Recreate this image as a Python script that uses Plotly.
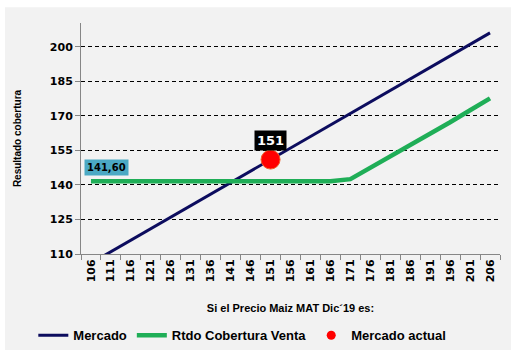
import plotly.graph_objects as go

precios = ["106", "111", "116", "121", "126", "131", "136", "141", "146", "151", "156",
           "161", "166", "171", "176", "181", "186", "191", "196", "201", "206"]
mercado = [106, 111, 116, 121, 126, 131, 136, 141, 146, 151, 156,
           161, 166, 171, 176, 181, 186, 191, 196, 201, 206]
cobertura = [141.6, 141.6, 141.6, 141.6, 141.6, 141.6, 141.6, 141.6, 141.6, 141.6, 141.6,
             141.6, 141.6, 142.5, 147.4, 152.3, 157.2, 162.0, 167.2, 172.4, 177.6]
actual_x = ["151"]
actual_y = [151]
y_ticks = [110, 125, 140, 155, 170, 185, 200]

NAVY = "#0C0C5E"
GREEN = "#1FAE57"
FONT = "Liberation Sans"
TICKFONT = "DejaVu Sans"

fig = go.Figure()
fig.add_trace(go.Scatter(x=precios, y=mercado, mode="lines", name="Mercado",
                         line=dict(color=NAVY, width=3)))
fig.add_trace(go.Scatter(x=precios, y=cobertura, mode="lines", name="Rtdo Cobertura Venta",
                         line=dict(color=GREEN, width=4.5)))
fig.add_trace(go.Scatter(x=actual_x, y=actual_y, mode="markers", name="Mercado actual",
                         showlegend=False,
                         marker=dict(color="#FF0000", size=19,
                                     line=dict(color="#F0602A", width=1))))
# legend entry with a smaller dot
fig.add_trace(go.Scatter(x=[None], y=[None], mode="markers", name="Mercado actual",
                         marker=dict(color="#FF0000", size=9)))

i_first = 0
i_act = precios.index(actual_x[0])
fig.add_annotation(x=i_first, y=cobertura[0], text="<b>141,60</b>", showarrow=False,
                   xshift=16, yshift=14, bgcolor="#4BA9C4", borderpad=2,
                   font=dict(family=TICKFONT, size=10, color="black"))
fig.add_annotation(x=i_act, y=actual_y[0], text="<b>151</b>", showarrow=False,
                   yshift=19, bgcolor="black", borderpad=2,
                   font=dict(family=TICKFONT, size=13, color="white"))

# gray panel with a thin white frame
fig.add_shape(type="rect", xref="paper", yref="paper", layer="below",
              x0=(5 - 81) / 419, x1=(511 - 81) / 419,
              y0=(259 - 357) / 236, y1=(259 - 7) / 236,
              fillcolor="#F2F2F2", line=dict(width=0))

fig.update_layout(
    width=518, height=362,
    margin=dict(l=81, r=18, t=23, b=103),
    paper_bgcolor="white", plot_bgcolor="rgba(0,0,0,0)",
    font=dict(family=FONT, color="black"),
    showlegend=True,
    legend=dict(orientation="h", x=0.385, xanchor="center", y=-0.352, yanchor="middle",
                font=dict(family=FONT, size=13, weight="bold"),
                bgcolor="rgba(0,0,0,0)", itemwidth=30, tracegroupgap=0),
)
fig.update_xaxes(
    type="category", range=[-0.5, len(precios) - 0.5],
    tickson="boundaries", ticks="outside", ticklen=5,
    tickcolor="#868686", showline=True, linecolor="#868686", linewidth=1,
    showgrid=False, tickangle=-90,
    tickfont=dict(family=TICKFONT, size=11, weight="bold"),
    title=dict(text="Si el Precio Maiz MAT Dic´19 es:", standoff=22,
               font=dict(family=FONT, size=11, weight="bold")),
)
fig.update_yaxes(
    range=[110, 210.3], tickvals=y_ticks, ticks="outside", ticklen=5,
    tickcolor="#868686", showline=True, linecolor="#868686", linewidth=1,
    showgrid=True, gridcolor="black", gridwidth=1, griddash="4px,3px",
    zeroline=False,
    tickfont=dict(family=TICKFONT, size=11, weight="bold"),
    title=dict(text="Resultado cobertura", standoff=26,
               font=dict(family=FONT, size=10, weight="bold")),
)

fig.write_html("out.html")
